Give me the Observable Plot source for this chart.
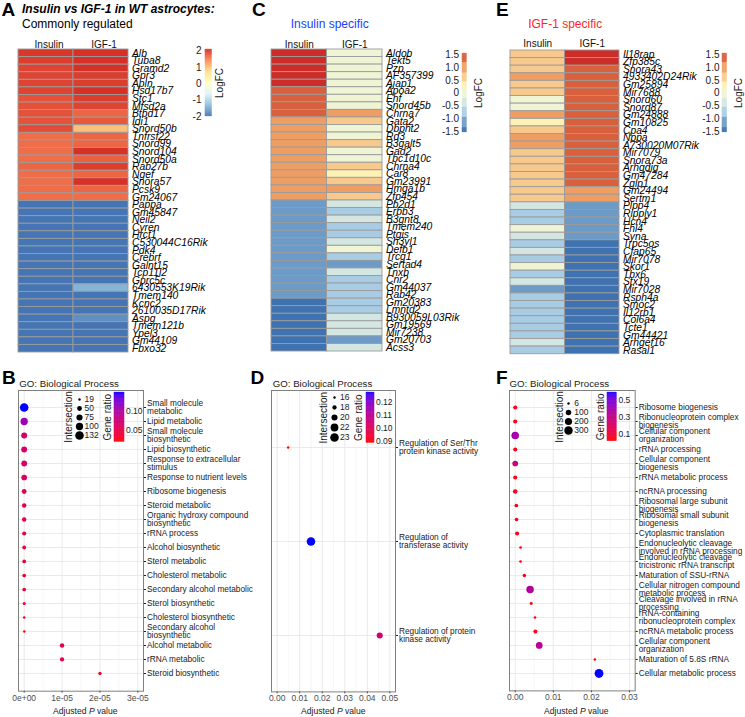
<!DOCTYPE html>
<html><head><meta charset="utf-8">
<script src="https://cdn.jsdelivr.net/npm/d3@7"></script>
<script src="https://cdn.jsdelivr.net/npm/@observablehq/plot@0.6"></script>
<style>
body{margin:0;background:#fff;}
#root{position:relative;width:745px;height:717px;overflow:hidden;font-family:"Liberation Sans",Arial,Helvetica,sans-serif;background:#fff;}
.t{position:absolute;white-space:nowrap;line-height:1;}
</style></head><body><div id="root"></div><script>
// ---------------- DATA ----------------
const conds = ["Insulin", "IGF-1"];

const genesA = ["Alb","Tuba8","Gramd2","Gpr3","Apln","Hsd17b7","Stc1","Mfsd2a","Btbd17","Idi1","Snord50b","Tnfrsf22","Snord99","Snord104","Snord50a","Rab27b","Ngef","Snora57","Pcsk9","Gm24067","Pappa","Gm45847","Neil2","Cyren","Hrct1","C530044C16Rik","Pdk4","Crebrf","Galnt15","Tcp11l2","Gprc5c","6430553K19Rik","Tmem140","Kcnc2","2610035D17Rik","Aspg","Tmem121b","Ypel3","Gm44109","Fbxo32"];
const insA = [2.05,2.0,1.95,1.95,1.95,1.95,1.85,1.85,1.85,1.85,1.9,1.65,1.65,1.65,1.65,1.7,1.65,1.65,1.65,1.65,-2.0,-2.0,-2.0,-2.0,-2.0,-2.0,-2.0,-2.0,-2.0,-2.0,-2.0,-2.0,-2.0,-2.0,-2.0,-2.0,-2.0,-2.0,-2.0,-2.0];
const igfA = [2.1,2.1,2.1,2.0,2.0,2.1,2.0,1.95,1.7,1.8,1.0,1.7,1.7,2.1,1.75,2.0,1.7,2.1,1.7,1.65,-2.0,-2.0,-2.0,-2.0,-2.0,-2.0,-2.0,-2.0,-2.0,-2.0,-2.0,-1.42,-2.0,-2.0,-2.0,-1.76,-2.0,-2.0,-2.0,-2.0];

const genesC = ["Aldob","Tekt5","Pzp","AF357399","Ajap1","Apoa2","Ehf","Snord45b","Chrna7","Gata2","Dbpht2","Rd3","B3galt5","Gad2","Tbc1d10c","Chrna4","Car8","Gm23991","Hmga1b","Zfp454","Pb2d1","Erbb3","B3gnt8","Tmem240","Ptgis","Sh3yl1","Defb1","Trcg1","Sertad4","Tnxb","Cnr2","Gm44037","Rab42","Gm20383","Lmntd2","B930059L03Rik","Gm19569","Mir7238","Gm20703","Acss3"];
const insC = [1.7,1.7,1.7,1.7,1.7,1.4,1.4,1.4,1.4,1.0,1.0,1.0,1.0,1.0,1.0,1.0,1.0,1.0,1.0,1.0,-1.15,-1.15,-1.15,-1.15,-1.15,-1.15,-1.15,-1.15,-1.15,-1.15,-1.15,-1.15,-1.15,-1.5,-1.5,-1.5,-1.5,-1.5,-1.5,-1.5];
const igfC = [0.0,0.0,0.0,0.0,0.0,0.0,0.0,0.0,1.0,0.6,0.0,0.0,0.6,0.0,0.0,0.6,0.3,0.6,1.0,0.6,-0.4,-0.75,-0.4,-0.75,-0.75,-0.4,0.0,-0.75,-1.15,-0.4,-0.75,-0.75,-0.75,-0.75,-0.75,-0.4,-0.4,-0.4,-1.15,-0.4];

const genesE = ["Il18rap","Zfp385c","Snora43","4933402D24Rik","Gm25894","Mir7688","Snord60","Snord87","Gm24888","Gm10825","Cpa4","Nppa","A730020M07Rik","Mir7079","Snora73a","Arhgdig","Gm47284","Zglp1","Gm24494","Sertm1","Plpp4","Ripply1","Hcn4","Fhl4","Syna","Trpc5os","Cfap65","Mir7078","Skor1","Tbx6","Stx19","Mir7028","Rsph4a","Smoc2","Il12rb1","Col6a4","Tcte1","Gm44421","Arhgef16","Rasal1"];
const insE = [0.6,0.6,0.6,1.0,0.6,0.6,0.0,0.0,1.0,0.3,0.6,1.0,1.0,0.6,0.6,0.6,0.6,0.6,0.6,0.6,-0.4,-0.75,-0.75,0.0,-0.4,-0.75,-0.4,-0.75,0.0,-0.75,-0.4,-1.15,-0.75,-0.75,-0.75,-0.75,-0.75,-0.75,-0.4,-0.75];
const igfE = [1.7,1.7,1.4,1.4,1.4,1.4,1.4,1.4,1.4,1.4,1.4,1.4,1.4,1.4,1.4,1.4,1.4,1.4,1.0,1.0,-1.15,-1.15,-1.15,-1.15,-1.15,-1.5,-1.5,-1.5,-1.5,-1.5,-1.5,-1.5,-1.5,-1.5,-1.5,-1.5,-1.5,-1.5,-1.5,-1.5];

const ticksA = [2, 1, 0, -1, -2];
const tickLabelsA = ["2", "1", "0", "-1", "-2"];
const ticksCE = [1.5, 1, 0.5, 0, -0.5, -1, -1.5];
const tickLabelsCE = ["1.5", "1.0", "0.5", "0", "-0.5", "-1.0", "-1.5"];

const termsB = ["Small molecule\nmetabolic","Lipid metabolic","Small molecule\nbiosynthetic","Lipid biosynthetic","Response to extracellular\nstimulus","Response to nutrient levels","Ribosome biogenesis","Steroid metabolic","Organic hydroxy compound\nbiosynthetic","rRNA process","Alcohol biosynthetic","Sterol metabolic","Cholesterol metabolic","Secondary alcohol metabolic","Sterol biosynthetic","Cholesterol biosynthetic","Secondary alcohol\nbiosynthetic","Alcohol metabolic","rRNA metabolic","Steroid biosynthetic"];
const padjB = [1e-12,1e-11,1e-10,1e-10,1e-9,1e-9,1e-9,2e-9,3e-9,4e-9,5e-9,6e-9,8e-9,9e-9,1.2e-8,2e-8,3e-8,1.0e-5,1.0e-5,2.0e-5];
const interB = [132,100,72,70,68,66,50,46,45,40,36,35,34,34,27,21,19,46,42,29];
const ratioB = [0.146,0.108,0.068,0.066,0.064,0.063,0.05,0.048,0.047,0.045,0.044,0.043,0.043,0.043,0.04,0.035,0.022,0.055,0.05,0.036];
const sizesB = [19, 50, 75, 100, 132];
const ratioTicksB = [0.05, 0.10];
const ratioLabelsB = ["0.05", "0.10"];
const xTicksB = [0, 1e-5, 2e-5, 3e-5];
const xLabelsB = ["0e+00", "1e-05", "2e-05", "3e-05"];

const termsD = ["Regulation of Ser/Thr\nprotein kinase activity","Regulation of\ntransferase activity","Regulation of protein\nkinase activity"];
const padjD = [0.0049, 0.0150, 0.0455];
const interD = [16, 23, 20];
const ratioD = [0.0884, 0.1277, 0.104];
const sizesD = [16, 18, 20, 22, 23];
const ratioTicksD = [0.09, 0.10, 0.11, 0.12];
const ratioLabelsD = ["0.09", "0.10", "0.11", "0.12"];
const xTicksD = [0, 0.01, 0.02, 0.03, 0.04, 0.05];
const xLabelsD = ["0.00", "0.01", "0.02", "0.03", "0.04", "0.05"];

const termsF = ["Ribosome biogenesis","Ribonucleoprotein complex\nbiogenesis","Cellular component\norganization","rRNA processing","Cellular component\nbiogenesis","rRNA metabolic process","ncRNA processing","Ribosomal large subunit\nbiogenesis","Ribosomal small subunit\nbiogenesis","Cytoplasmic translation","Endonucleolytic cleavage\ninvolved in rRNA processing","Endonucleolytic cleavage\ntricistronic rRNA transcript","Maturation of SSU-rRNA","Cellular nitrogen compound\nmetabolic process","Cleavage involved in rRNA\nprocessing","rRNA-containing\nribonucleoprotein complex","ncRNA metabolic process","Cellular component\norganization","Maturation of 5.8S rRNA","Cellular metabolic process"];
const padjF = [1e-6,2e-6,3e-6,3e-6,4e-6,5e-6,8e-6,0.0003,0.00035,0.0005,0.0014,0.0014,0.0024,0.0039,0.0042,0.0052,0.0053,0.0063,0.0209,0.0220];
const interF = [45,48,230,42,113,42,64,32,30,42,9,9,25,225,15,10,42,172,6,330];
const ratioF = [0.06,0.06,0.40,0.055,0.26,0.055,0.07,0.05,0.05,0.05,0.03,0.03,0.04,0.36,0.04,0.03,0.06,0.33,0.022,0.59];
const sizesF = [6, 100, 200, 300];
const ratioTicksF = [0.1, 0.3, 0.5];
const ratioLabelsF = ["0.1", "0.3", "0.5"];
const xTicksF = [0, 0.01, 0.02, 0.03];
const xLabelsF = ["0.00", "0.01", "0.02", "0.03"];

// ---------------- SCALES ----------------
const rdylbu7 = ["#4575B4","#91BFDB","#E0F3F8","#FFFFBF","#FEE090","#FC8D59","#D73027"];
const colorA = {type: "linear", domain: d3.range(7).map(i => -2 + i * 4.1 / 6), range: rdylbu7, interpolate: "rgb"};
const colorCE = {type: "threshold", domain: [-1.35, -0.95, -0.55, -0.2, 0.15, 0.45, 0.8, 1.2, 1.55],
  range: ["#3F72B0","#6D9BC8","#A8CCE3","#D3E6E1","#EEF4D4","#FDF1B6","#F8C98D","#EE9E63","#D8603D","#CC2D29"]};
const rB = {type: "sqrt", domain: [19, 132], range: [1.2, 4.3]};
const cB = {type: "linear", domain: [0.022, 0.146], range: ["red", "blue"], interpolate: "lab"};
const rD = {type: "sqrt", domain: [16, 23], range: [1.2, 4.3]};
const cD = {type: "linear", domain: [0.0884, 0.1277], range: ["red", "blue"], interpolate: "lab"};
const rF = {type: "sqrt", domain: [6, 330], range: [1.2, 4.4]};
const cF = {type: "linear", domain: [0.022, 0.59], range: ["red", "blue"], interpolate: "lab"};

// ---------------- HELPERS ----------------
const root = document.getElementById("root");
const FONT = '"Liberation Sans", Arial, Helvetica, sans-serif';

function framed(f, m, opts) {
  const svg = Plot.plot(Object.assign({}, opts, {
    width: f.w + m.l + m.r, height: f.h + m.t + m.b,
    marginTop: m.t, marginRight: m.r, marginBottom: m.b, marginLeft: m.l,
    style: {background: "transparent", overflow: "visible", fontFamily: FONT, color: "#1a1a1a", fontSize: "10px"}
  }));
  svg.style.position = "absolute";
  svg.style.left = (f.x - m.l) + "px";
  svg.style.top = (f.y - m.t) + "px";
  svg.style.maxWidth = "none";
  root.appendChild(svg);
  return svg;
}

function label(html, x, cy, o = {}) {
  const size = o.size || 10;
  const d = document.createElement("div");
  d.className = "t";
  d.innerHTML = html;
  Object.assign(d.style, {
    left: x + "px", top: (cy - 0.49 * size) + "px", fontSize: size + "px",
    fontWeight: o.weight || "normal", fontStyle: o.style || "normal", color: o.color || "#1a1a1a"
  });
  if (o.center) d.style.transform = "translateX(-50%)";
  root.appendChild(d);
}

function heatmap(genes, ins, igf, color, f, hdx, hpad) {
  const rows = genes.flatMap((g, i) => [{g, c: conds[0], v: ins[i]}, {g, c: conds[1], v: igf[i]}]);
  framed(f, {t: 20, r: 100, b: 2, l: 2}, {
    x: {domain: conds, padding: 0, round: false},
    y: {domain: genes, padding: 0, round: false},
    color,
    marks: [
      Plot.cell(rows, {x: "c", y: "g", fill: "v", inset: 0, stroke: "#9b9b9b", strokeWidth: 0.9}),
      Plot.axisX({anchor: "top", tickSize: 0, tickPadding: hpad, dx: hdx, fontSize: 10, label: null, color: "#111"}),
      Plot.axisY({anchor: "right", tickSize: 0, tickPadding: 3.5, fontSize: 10.3, fontStyle: "italic", label: null, color: "#000"})
    ]
  });
}

function colorbar({f, domain, color, ticks, labels, side, pad, title, tdx, fs, tfs}) {
  const n = 160, step = (domain[1] - domain[0]) / n;
  const slices = d3.range(n).map(i => ({a: domain[0] + i * step, b: domain[0] + (i + 1) * step, m: domain[0] + (i + 0.5) * step}));
  framed(f, {t: 4, r: 26, b: 4, l: 26}, {
    y: {domain},
    color,
    marks: [
      Plot.rect(slices, {y1: "a", y2: "b", fill: "m", stroke: "m", strokeWidth: 0.3}),
      Plot.axisY({anchor: side, ticks, tickFormat: d => labels[ticks.indexOf(d)], tickSize: 0, tickPadding: pad, fontSize: fs, label: null, color: "#1a1a1a"}),
      Plot.text([title], {frameAnchor: side === "left" ? "right" : "left", textAnchor: "middle", rotate: -90, dx: tdx, fontSize: tfs, fill: "#1a1a1a"})
    ]
  });
}

function dotplot({f, terms, padj, inter, ratio, xDomain, xTicks, xLabels, xMinor, r, color}) {
  const data = terms.map((t, i) => ({i, p: padj[i], n: inter[i], ratio: ratio[i]}));
  framed(f, {t: 4, r: 112, b: 20, l: 4}, {
    x: {domain: xDomain},
    y: {type: "point", domain: d3.range(terms.length), padding: 0.6},
    r, color,
    marks: [
      Plot.ruleX(xMinor, {stroke: "#f1f1f1", strokeWidth: 0.6}),
      Plot.gridX({ticks: xTicks, stroke: "#e4e4e4", strokeOpacity: 1, strokeWidth: 0.8}),
      Plot.gridY({stroke: "#e4e4e4", strokeOpacity: 1, strokeWidth: 0.8}),
      Plot.frame({stroke: "#808080", strokeWidth: 1}),
      Plot.dot(data, {x: "p", y: "i", r: "n", fill: "ratio"}),
      Plot.axisX({ticks: xTicks, tickFormat: d => xLabels[xTicks.indexOf(d)], tickSize: 2, tickPadding: 1.5, fontSize: 8.5, label: null, color: "#4d4d4d"}),
      Plot.axisY({anchor: "right", tickSize: 2, tickPadding: 1.5, tickFormat: i => terms[i], fontSize: 8.3, lineHeight: 1.0, label: null, color: "#1a1a1a"})
    ]
  });
}

function sizeLegend({f, sizes, r, tdx, ldx}) {
  framed(f, {t: 2, r: 20, b: 2, l: 14}, {
    y: {type: "point", domain: sizes, padding: 0.5, axis: null},
    r,
    marks: [
      Plot.dot(sizes, {y: d => d, r: d => d, fill: "black"}),
      Plot.text(sizes, {y: d => d, text: d => String(d), frameAnchor: "right", textAnchor: "start", dx: ldx, fontSize: 8.5, fill: "#1a1a1a"}),
      Plot.text(["Intersection"], {frameAnchor: "left", textAnchor: "middle", rotate: -90, dx: tdx, fontSize: 10, fill: "#1a1a1a"})
    ]
  });
}

// ---------------- HEATMAPS ----------------
heatmap(genesA, insA, igfA, colorA, {x: 18, y: 49, w: 110, h: 303}, 3, 2);
heatmap(genesC, insC, igfC, colorCE, {x: 271, y: 49, w: 111, h: 302}, 0, 2);
heatmap(genesE, insE, igfE, colorCE, {x: 510, y: 50, w: 109, h: 303.7}, 0, 3);

colorbar({f: {x: 204.7, y: 49, w: 6.6, h: 67}, domain: [-2, 2.1], color: colorA, ticks: ticksA, labels: tickLabelsA, side: "left", pad: 4, title: "LogFC", tdx: 7.4, fs: 10, tfs: 10});
colorbar({f: {x: 461.7, y: 53.3, w: 4.4, h: 79}, domain: [-1.54, 1.55], color: colorCE, ticks: ticksCE, labels: tickLabelsCE, side: "left", pad: 3.4, title: "LogFC", tdx: 11.8, fs: 10, tfs: 10});
colorbar({f: {x: 722, y: 53.3, w: 4.7, h: 79}, domain: [-1.54, 1.55], color: colorCE, ticks: ticksCE, labels: tickLabelsCE, side: "left", pad: 3, title: "LogFC", tdx: 12, fs: 10, tfs: 10});

// ---------------- DOT PLOTS ----------------
dotplot({f: {x: 18.3, y: 390, w: 125, h: 300.7}, terms: termsB, padj: padjB, inter: interB, ratio: ratioB,
  xDomain: [-0.15e-5, 3.15e-5], xTicks: xTicksB, xLabels: xLabelsB, xMinor: [0.5e-5, 1.5e-5, 2.5e-5], r: rB, color: cB});
dotplot({f: {x: 271, y: 390.3, w: 124, h: 301.4}, terms: termsD, padj: padjD, inter: interD, ratio: ratioD,
  xDomain: [-0.0025, 0.0525], xTicks: xTicksD, xLabels: xLabelsD, xMinor: [0.005, 0.015, 0.025, 0.035, 0.045], r: rD, color: cD});
dotplot({f: {x: 509, y: 390.3, w: 125.7, h: 300.4}, terms: termsF, padj: padjF, inter: interF, ratio: ratioF,
  xDomain: [-0.0015, 0.0315], xTicks: xTicksF, xLabels: xLabelsF, xMinor: [0.005, 0.015, 0.025], r: rF, color: cF});

sizeLegend({f: {x: 75.3, y: 392, w: 8, h: 49}, sizes: sizesB, r: rB, tdx: -6.3, ldx: 1});
sizeLegend({f: {x: 329.7, y: 391.45, w: 8, h: 52.5}, sizes: sizesD, r: rD, tdx: -6.4, ldx: 1.5});
sizeLegend({f: {x: 564.3, y: 397.7, w: 8, h: 36.9}, sizes: sizesF, r: rF, tdx: -5, ldx: 1.7});

colorbar({f: {x: 114.3, y: 392.3, w: 10, h: 49.4}, domain: cB.domain, color: cB, ticks: ratioTicksB, labels: ratioLabelsB, side: "right", pad: 1.5, title: "Gene ratio", tdx: -6.6, fs: 8.5, tfs: 10});
colorbar({f: {x: 366.3, y: 392.3, w: 8, h: 50.4}, domain: cD.domain, color: cD, ticks: ratioTicksD, labels: ratioLabelsD, side: "right", pad: 1.5, title: "Gene ratio", tdx: -7.3, fs: 8.5, tfs: 10});
colorbar({f: {x: 606.7, y: 392.3, w: 9.3, h: 48.7}, domain: cF.domain, color: cF, ticks: ratioTicksF, labels: ratioLabelsF, side: "right", pad: 1.7, title: "Gene ratio", tdx: -6.7, fs: 8.5, tfs: 10});

// ---------------- TEXT ----------------
label("A", 1.5, 9.8, {size: 19, weight: "bold", color: "#000"});
label("C", 252, 9.8, {size: 19, weight: "bold", color: "#000"});
label("E", 496, 9.8, {size: 19, weight: "bold", color: "#000"});
label("B", 2, 377.8, {size: 19, weight: "bold", color: "#000"});
label("D", 250.5, 377.8, {size: 19, weight: "bold", color: "#000"});
label("F", 496, 377.8, {size: 19, weight: "bold", color: "#000"});
label("Insulin vs IGF-1 in WT astrocytes:", 22, 9.3, {size: 12, weight: "bold", style: "italic", color: "#000"});
label("Commonly regulated", 22, 23.6, {size: 12, color: "#000"});
label("Insulin specific", 329.7, 23.6, {size: 12, color: "#2040ff", center: true});
label("IGF-1 specific", 565.2, 23.6, {size: 12, color: "#ff2525", center: true});
label("GO: Biological Process", 19.3, 384, {size: 9.7});
label("GO: Biological Process", 272.7, 384, {size: 9.7});
label("GO: Biological Process", 509.5, 384, {size: 9.7});
label("Adjusted <i>P</i> value", 85.3, 711.7, {size: 8.6, center: true});
label("Adjusted <i>P</i> value", 333.3, 711.7, {size: 8.6, center: true});
label("Adjusted <i>P</i> value", 576.3, 711.7, {size: 8.6, center: true});
</script></body></html>
